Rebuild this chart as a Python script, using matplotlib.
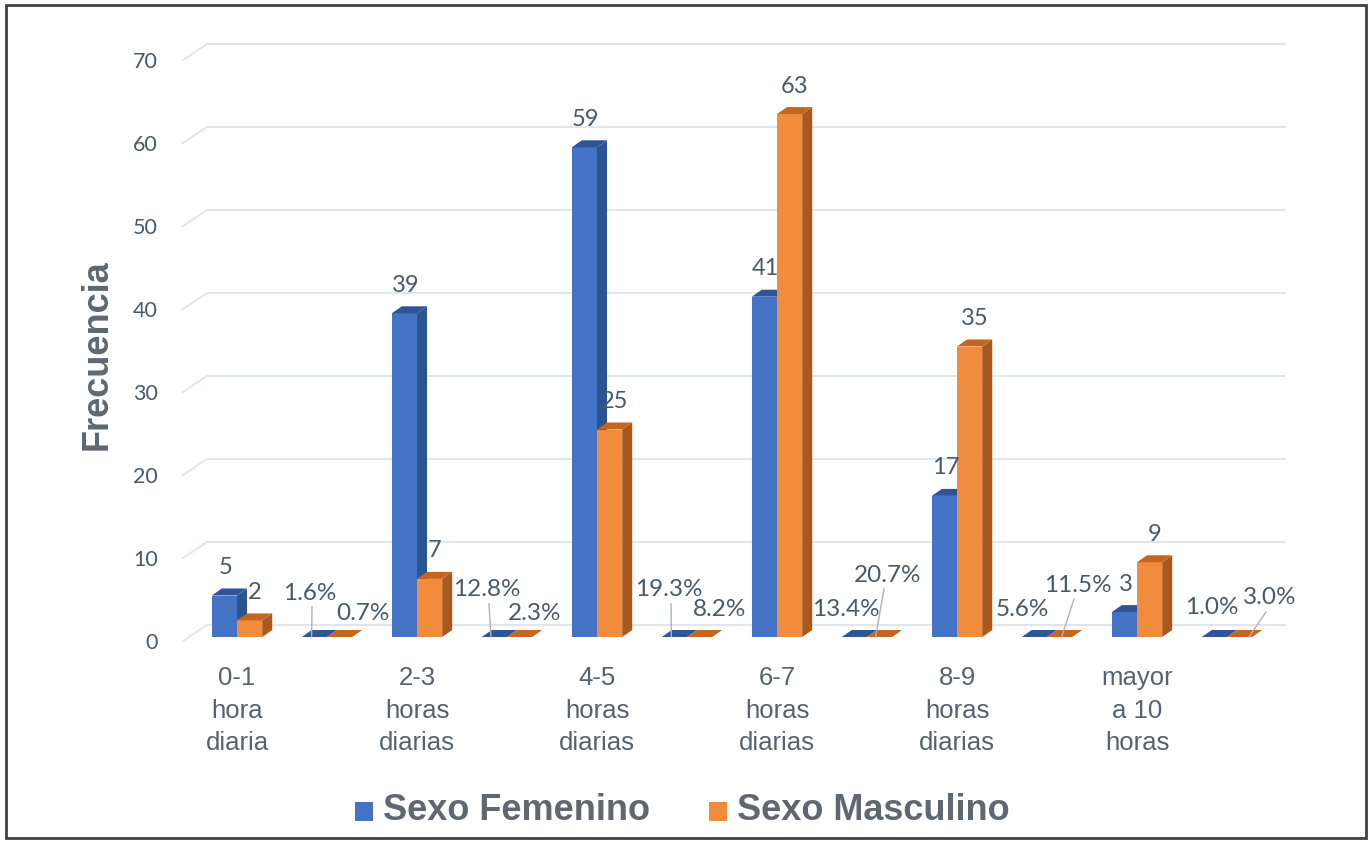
import numpy as np
import matplotlib.pyplot as plt
from matplotlib.patches import Polygon, Rectangle

# slot labels (every second slot holds the percentage "ghost" bars)
categories = ["0-1\nhora\ndiaria", "", "2-3\nhoras\ndiarias", "", "4-5\nhoras\ndiarias", "",
              "6-7\nhoras\ndiarias", "", "8-9\nhoras\ndiarias", "", "mayor\na 10\nhoras", ""]
femenino = [5, 0, 39, 0, 59, 0, 41, 0, 17, 0, 3, 0]
masculino = [2, 0, 7, 0, 25, 0, 63, 0, 35, 0, 9, 0]
pct_fem = ["1.6%", "12.8%", "19.3%", "13.4%", "5.6%", "1.0%"]
pct_masc = ["0.7%", "2.3%", "8.2%", "20.7%", "11.5%", "3.0%"]
yticks = [0, 10, 20, 30, 40, 50, 60, 70]

W, H = 1370, 844
fig = plt.figure(figsize=(W / 100, H / 100), dpi=100)
# axes: slot -0.5 at px 192, slot 11.5 at px 1272; value 0 at py 641, 70 at py 60
ax = fig.add_axes([192 / W, (H - 641) / H, 1080 / W, 581 / H])
ax.set_xlim(-0.5, 11.5)
ax.set_ylim(0, 70)
for s in ax.spines.values():
    s.set_visible(False)

px = 1 / 90.0      # one pixel in slot units
py = 70 / 581.0    # one pixel in value units

blue, blue_side, blue_top = "#4472C4", "#2C5491", "#2F5597"
orange, orange_side, orange_top = "#F08C3C", "#A9581E", "#C4661F"
txt = "#4A5968"
grid_c = "#DDE4EB"

# pseudo-3D gridlines
gdx, gdy = 24 * px, 16 * py
for v in yticks:
    x0 = -0.5 - 9 * px
    ax.plot([x0, x0 + gdx, 11.5 + 13 * px], [v, v + gdy, v + gdy],
            color=grid_c, lw=1.3, clip_on=False, zorder=0)

bw = 0.28
ddx, ddy = 10 * px, 7 * py
base = 4 * py   # bars stand a little behind the front plane


def bar3d(xl, v, front, side, top):
    xr = xl + bw
    b = base
    ax.add_patch(Rectangle((xl, b), bw, v, facecolor=front, edgecolor="none", zorder=2))
    ax.add_patch(Polygon([(xr, b), (xr, b + v), (xr + ddx, b + v + ddy), (xr + ddx, b + ddy)],
                         facecolor=side, edgecolor="none", zorder=2))
    ax.add_patch(Polygon([(xl, b + v), (xl + ddx, b + v + ddy), (xr + ddx, b + v + ddy), (xr, b + v)],
                         facecolor=top, edgecolor="none", zorder=2))


num_font = ["Lato", "DejaVu Sans"]
for i, (f, m) in enumerate(zip(femenino, masculino)):
    bar3d(i - bw, f, blue, blue_side, blue_top)
    bar3d(i, m, orange, orange_side, orange_top)
    if i % 2 == 0:
        ax.text(i - bw / 2 + 1 * px, f + 32 * py, str(f), ha="center", va="center",
                fontsize=17, color=txt, family=num_font, zorder=4)
        ax.text(i + bw / 2 + 5 * px, m + 32 * py, str(m), ha="center", va="center",
                fontsize=17, color=txt, family=num_font, zorder=4)

# percentage labels: pixel offsets from slot centre / base (layout only)
fem_off = [(-17, 48), (-20, 51), (-18, 51), (-21, 31), (-25, 31), (-15, 33)]
masc_off = [(36, 28), (28, 28), (33, 31), (21, 66), (31, 56), (43, 43)]
fem_lead = [True, True, True, False, False, False]
masc_lead = [False, False, False, True, True, True]
for k in range(6):
    c = 2 * k + 1
    for lab, (ox, oy), lead in ((pct_fem[k], fem_off[k], fem_lead[k]),
                                (pct_masc[k], masc_off[k], masc_lead[k])):
        lx, ly = c + ox * px, oy * py
        ax.text(lx, ly, lab, ha="center", va="center", fontsize=17.5, color=txt,
                family=num_font, zorder=4)
        if lead:
            bx = c + (ox * 0.2 - 12) * px if ox < 0 else c + (ox * 0.6 - 4) * px
            ax.plot([bx, lx + (2 if ox < 0 else -1) * px * (4 if ox > 0 else 1)],
                    [4 * py, ly - 14 * py], color="#A8B4C0", lw=1, zorder=3)

ax.set_xticks(range(12))
ax.set_xticklabels(categories, fontsize=18.5, color="#56636F", family=["Liberation Sans"],
                   linespacing=1.45)
ax.set_yticks(yticks)
ax.set_yticklabels([str(v) for v in yticks], fontsize=15.5, color=txt, family=num_font)
ax.tick_params(axis="x", length=0, pad=18)
ax.tick_params(axis="y", length=0, pad=24.5)

fig.text(97 / W, 1 - 355 / H, "Frecuencia", rotation=90, ha="center", va="center",
         fontsize=26, fontweight="bold", color="#5F6870", family=["Liberation Sans"])

# legend
for sx, col, lab in ((355, blue, "Sexo Femenino"), (709, orange, "Sexo Masculino")):
    fig.patches.append(Rectangle((sx / W, 1 - 821 / H), 18 / W, 19 / H, facecolor=col,
                                 edgecolor="none", transform=fig.transFigure))
    fig.text((sx + 28) / W, 1 - 811 / H, lab, ha="left", va="center", fontsize=26,
             fontweight="bold", color="#5F6870", family=["Liberation Sans"])

# outer frame
fig.patches.append(Rectangle((6 / W, 1 - 838 / H), 1360 / W, 833 / H, fill=False,
                             edgecolor="#404040", lw=2, transform=fig.transFigure))

fig.savefig("out.png", dpi=100)
